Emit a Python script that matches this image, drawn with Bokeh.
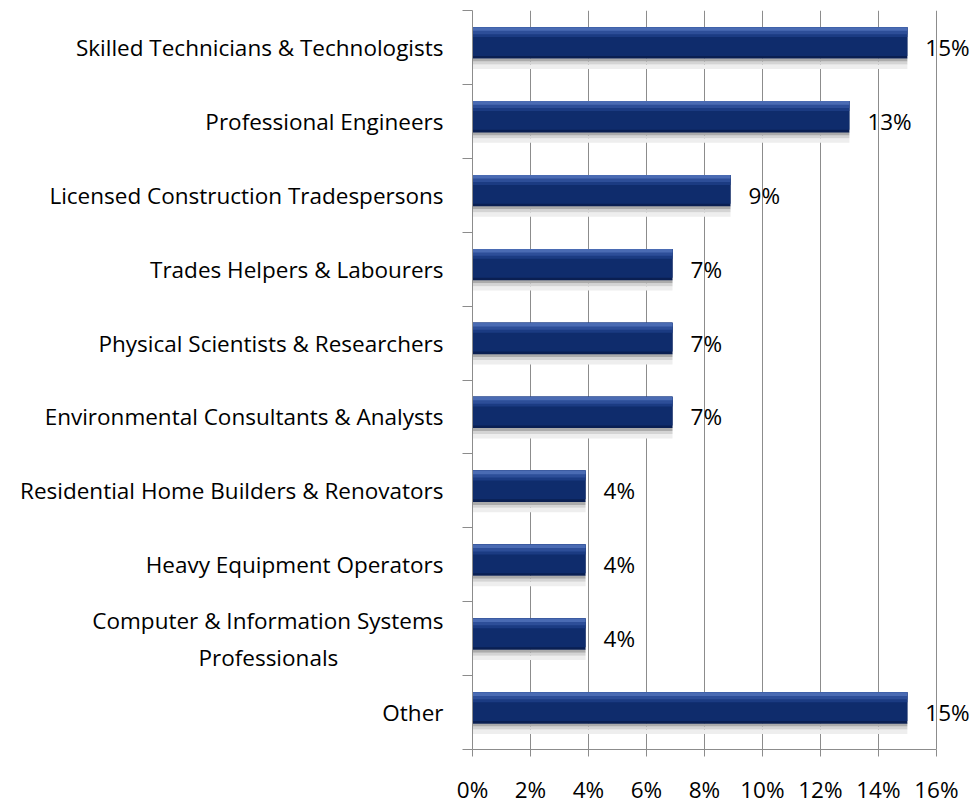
from bokeh.plotting import figure
from bokeh.models import ColumnDataSource, FixedTicker, Range1d, LabelSet
from bokeh.transform import dodge
from bokeh.core.properties import value
from bokeh.embed import file_html
from bokeh.resources import INLINE

categories = [
    "Skilled Technicians & Technologists",
    "Professional Engineers",
    "Licensed Construction Tradespersons",
    "Trades Helpers & Labourers",
    "Physical Scientists & Researchers",
    "Environmental Consultants & Analysts",
    "Residential Home Builders & Renovators",
    "Heavy Equipment Operators",
    "Computer & Information Systems\nProfessionals",
    "Other",
]
shares = [15.0, 13.0, 8.9, 6.9, 6.9, 6.9, 3.9, 3.9, 3.9, 15.0]
x_ticks = [0, 2, 4, 6, 8, 10, 12, 14, 16]

FONT = "Open Sans"
FS = "22.5px"
GRID = "#8c8c8c"
NBSP = "\u00a0"


def axis_text(c):
    # centre the second line of a two-line label under the first
    if "\n" in c:
        a, b = c.split("\n")
        return a + "\n" + b + NBSP * 18
    return c


n = len(categories)
ys = [n - 0.5 - i for i in range(n)]
labels = [f"{round(v)}%" for v in shares]
src = ColumnDataSource(dict(y=ys, v=shares, lab=labels))

p = figure(width=975, height=807, output_backend="svg", toolbar_location=None,
           x_range=Range1d(0, 17.35), y_range=Range1d(0, n),
           min_border_left=472, min_border_right=0, min_border_top=10, min_border_bottom=58)
p.outline_line_color = None
p.background_fill_color = "white"

# soft shadow beneath bars
for lo, hi, col in [(-0.29, -0.23, "#eeeeee"), (-0.23, -0.19, "#d4d4d4"), (-0.19, -0.145, "#ababab")]:
    p.hbar(y=dodge("y", (lo + hi) / 2, range=p.y_range), height=hi - lo, left=0, right="v",
           source=src, fill_color=col, line_color=None)

# bar body: full bar in dark navy, then overlapping lighter bands toward the top edge
for lo, hi, col in [(-0.15, 0.274, "#0a1f52"), (-0.115, 0.274, "#0f2c6c"), (0.14, 0.274, "#1b3b82"),
                    (0.18, 0.274, "#2d4e98"), (0.225, 0.274, "#4a6bb3")]:
    p.hbar(y=dodge("y", (lo + hi) / 2, range=p.y_range), height=hi - lo, left=0, right="v",
           source=src, fill_color=col, line_color=None)

vals = LabelSet(x="v", y="y", text="lab", source=src, x_offset=18, text_align="left",
                text_baseline="middle", text_font=value(FONT), text_font_size=value(FS),
                text_color="black")
p.add_layout(vals)

# x axis (line and grid limited to 0-16%)
p.xaxis.ticker = FixedTicker(ticks=x_ticks)
p.xaxis.bounds = (0, 16)
p.xaxis.major_label_overrides = {t: f"{t}%" for t in x_ticks}
p.xaxis.axis_line_color = GRID
p.xaxis.major_tick_line_color = GRID
p.xaxis.major_tick_out = 7
p.xaxis.major_tick_in = 0
p.xaxis.minor_tick_line_color = None
p.xaxis.major_label_standoff = 17
p.xaxis.major_label_text_font = FONT
p.xaxis.major_label_text_font_size = FS
p.xaxis.major_label_text_color = "black"

# y axis: labels at category centres, ticks at category boundaries
p.yaxis.ticker = FixedTicker(ticks=ys, minor_ticks=list(range(n + 1)))
p.yaxis.major_label_overrides = {y: axis_text(c) for y, c in zip(ys, categories)}
p.yaxis.axis_line_color = GRID
p.yaxis.major_tick_line_color = None
p.yaxis.major_tick_out = 0
p.yaxis.major_tick_in = 0
p.yaxis.minor_tick_line_color = GRID
p.yaxis.minor_tick_out = 10
p.yaxis.minor_tick_in = 0
p.yaxis.major_label_standoff = 19
p.yaxis.major_label_text_font = FONT
p.yaxis.major_label_text_font_size = FS
p.yaxis.major_label_text_color = "black"

p.xgrid.grid_line_color = GRID
p.xgrid.grid_line_width = 1
p.xgrid.bounds = (0, 16)
p.ygrid.grid_line_color = None

open("out.html", "w").write(file_html(p, INLINE))
